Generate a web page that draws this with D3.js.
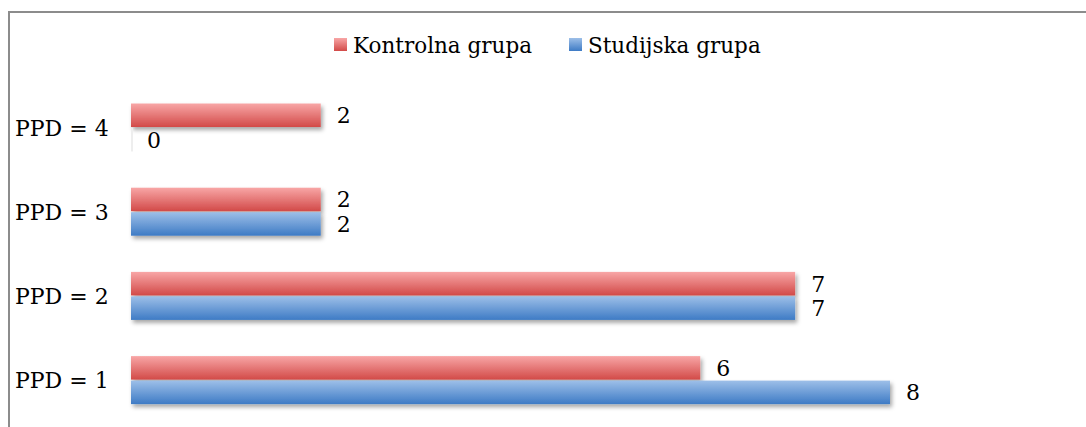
<!DOCTYPE html>
<html>
<head>
<meta charset="utf-8">
<script src="https://cdn.jsdelivr.net/npm/d3@7"></script>
<style>
  body { margin: 0; background: #fff; }
</style>
</head>
<body>
<svg id="chart" width="1086" height="427"></svg>
<script>
// data
const categories = ["PPD = 4", "PPD = 3", "PPD = 2", "PPD = 1"];
const kontrolna = [2, 2, 7, 6];
const studijska = [0, 2, 7, 8];
const seriesNames = ["Kontrolna grupa", "Studijska grupa"];

const FONT = "'DejaVu Serif', serif";

const svg = d3.select("#chart");
const defs = svg.append("defs");

function grad(id, top, bottom) {
  let g = defs.append("linearGradient")
    .attr("id", id)
    .attr("x1", 0).attr("y1", 0).attr("x2", 0).attr("y2", 1);
  g.append("stop").attr("offset", "0%").attr("stop-color", top);
  g.append("stop").attr("offset", "100%").attr("stop-color", bottom);
}
grad("gRed", "#f8a6a6", "#d24a48");
grad("gBlue", "#9dbfe8", "#3e7bc5");

defs.append("filter").attr("id", "shadow")
  .attr("x", "-5%").attr("y", "-30%").attr("width", "115%").attr("height", "180%")
  .append("feDropShadow")
  .attr("dx", 2).attr("dy", 3).attr("stdDeviation", 2)
  .attr("flood-color", "#000").attr("flood-opacity", 0.35);

// frame (top + left edge only visible)
svg.append("line").attr("x1", 9).attr("y1", 12).attr("x2", 1086).attr("y2", 12)
  .style("stroke", "#8c8c8c").style("stroke-width", 2);
svg.append("line").attr("x1", 9).attr("y1", 11).attr("x2", 9).attr("y2", 427)
  .style("stroke", "#8c8c8c").style("stroke-width", 2);

const x = d3.scaleLinear().domain([0, 8]).range([131, 890]);
const y = d3.scaleBand().domain(categories).range([85.4, 422.2])
  .paddingInner(0.43).paddingOuter(0.215);
const ySub = d3.scaleBand().domain([0, 1]).range([0, y.bandwidth()]).paddingInner(0.04);

const fills = ["url(#gRed)", "url(#gBlue)"];
const series = [kontrolna, studijska];

series.forEach(function(vals, s) {
  let g = svg.append("g");
  g.selectAll("rect")
    .data(vals)
    .enter()
    .append("rect")
    .attr("x", x(0))
    .attr("y", (d, i) => y(categories[i]) + ySub(s))
    .attr("width", d => d > 0 ? x(d) - x(0) : 2)
    .attr("height", ySub.bandwidth())
    .attr("fill", d => d > 0 ? fills[s] : "#eeeeee")
    .attr("filter", d => d > 0 ? "url(#shadow)" : null);
  g.selectAll("text")
    .data(vals)
    .enter()
    .append("text")
    .attr("x", d => x(d) + 16)
    .attr("y", (d, i) => y(categories[i]) + ySub(s) + ySub.bandwidth() / 2)
    .attr("dy", "0.36em")
    .style("font-family", FONT)
    .style("font-size", "22px")
    .text(d => d);
});

// category labels
svg.append("g").selectAll("text")
  .data(categories)
  .enter()
  .append("text")
  .attr("x", 15)
  .attr("y", d => y(d) + y.bandwidth() / 2)
  .attr("dy", "0.38em")
  .style("font-family", FONT)
  .style("font-size", "22px")
  .text(d => d);

// legend
const legendX = [334, 569];
seriesNames.forEach(function(name, s) {
  svg.append("rect")
    .attr("x", legendX[s]).attr("y", 38)
    .attr("width", 13).attr("height", 13)
    .attr("fill", fills[s]);
  svg.append("text")
    .attr("x", legendX[s] + 19).attr("y", 53)
    .style("font-family", FONT)
    .style("font-size", "21.5px")
    .text(name);
});
</script>
</body>
</html>
